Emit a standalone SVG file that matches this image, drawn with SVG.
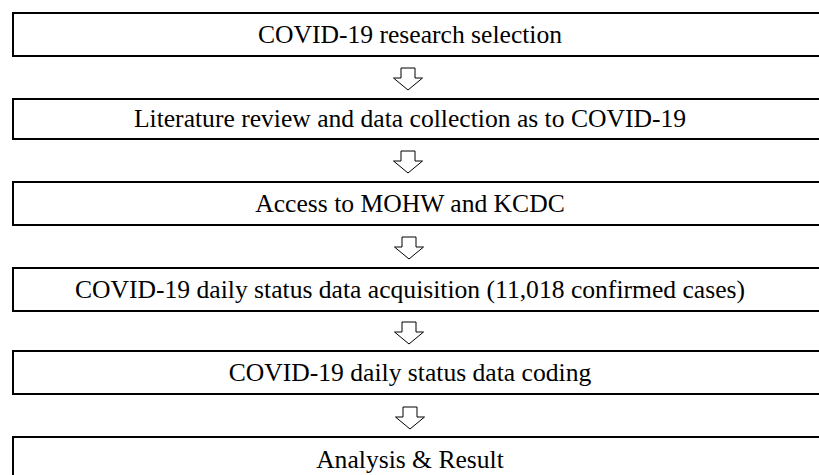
<svg xmlns="http://www.w3.org/2000/svg" width="819" height="475" viewBox="0 0 819 475">
<style>
.box{fill:#fff;stroke:#000;stroke-width:2}
.lbl{font-family:"Liberation Serif","Times New Roman",serif;font-size:25.6px;fill:#000;text-anchor:middle}
.arr{fill:#fff;stroke:#000;stroke-width:1}
</style>
<rect width="819" height="475" fill="#fff"/>
<defs>
<path id="downArrow" d="M-7,0 H7 V10 H14.5 L0,22 L-14.5,10 H-7 Z"/>
</defs>
<g id="node1"><rect class="box" x="13" y="13" width="820" height="43"/><text class="lbl" x="410" y="43">COVID-19 research selection</text></g>
<g id="node2"><rect class="box" x="13" y="99" width="820" height="40"/><text class="lbl" x="410" y="127">Literature review and data collection as to COVID-19</text></g>
<g id="node3"><rect class="box" x="13" y="182" width="820" height="43"/><text class="lbl" x="410" y="212">Access to MOHW and KCDC</text></g>
<g id="node4"><rect class="box" x="13" y="268" width="820" height="43"/><text class="lbl" x="410" y="298">COVID-19 daily status data acquisition (11,018 confirmed cases)</text></g>
<g id="node5"><rect class="box" x="13" y="351" width="820" height="43"/><text class="lbl" x="410" y="381">COVID-19 daily status data coding</text></g>
<g id="node6"><rect class="box" x="13" y="437" width="820" height="45"/><text class="lbl" x="410" y="468">Analysis &amp; Result</text></g>
<g id="connectors">
<use href="#downArrow" class="arr" x="408" y="68"/>
<use href="#downArrow" class="arr" x="408" y="151"/>
<use href="#downArrow" class="arr" x="409" y="237"/>
<use href="#downArrow" class="arr" x="409" y="322"/>
<use href="#downArrow" class="arr" x="410" y="407"/>
</g>
</svg>
